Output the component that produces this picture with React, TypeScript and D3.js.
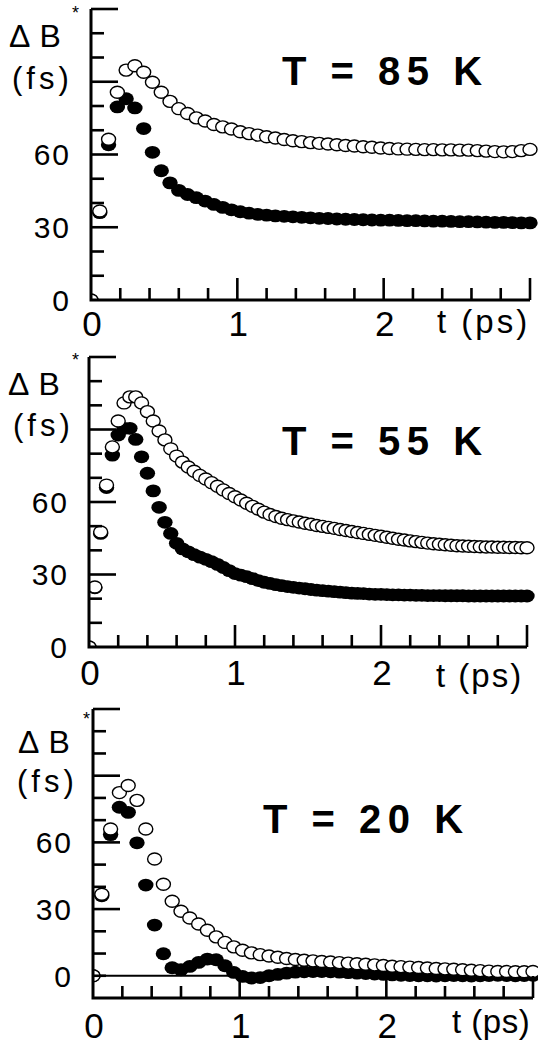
import * as d3 from 'd3';

const FONT = '"Liberation Sans", Arial, Helvetica, sans-serif';

// sampling interval (ps) of each run; point k sits at t = k * step
const step85 = 0.06;
const step55 = 0.04;
const step20 = 0.06;

// open circles / filled circles, ΔB* in fs
const open85 = [
  0, 36.7, 66.3, 85.7, 94.8, 96.6, 93.9, 89.8, 85.7, 81.9,
  78.9, 76.9, 75.1, 73.8, 72.4, 71.4, 70.5, 69.4, 68.6, 68.0,
  67.3, 66.8, 66.2, 65.7, 65.3, 64.9, 64.6, 64.3, 64.0, 63.7,
  63.5, 63.2, 63.0, 62.7, 62.5, 62.3, 62.2, 62.1, 62.0, 62.0,
  61.9, 61.9, 61.8, 61.8, 61.6, 61.4, 61.2, 61.1, 61.2, 61.6, 62.1,
];
const filled85 = [
  0, 36, 64, 79.6, 83, 79.2, 70.7, 60.9, 53.3, 48.3,
  45.2, 43.5, 42.2, 40.8, 39.4, 38.2, 37.2, 36.4, 35.8, 35.3,
  35.0, 34.7, 34.5, 34.3, 34.1, 33.9, 33.7, 33.6, 33.4, 33.3,
  33.2, 33.1, 33.0, 32.9, 32.9, 32.8, 32.7, 32.7, 32.6, 32.5,
  32.5, 32.4, 32.3, 32.3, 32.2, 32.1, 32.0, 32.0, 31.9, 31.8, 31.8,
];
const open55 = [
  0, 24.8, 47.6, 67, 82.8, 93.5, 101, 103.5, 103.5, 101,
  97.4, 93.5, 89.4, 85.7, 82, 79, 76.5, 74.5, 72.7, 71,
  69.5, 68, 66.5, 65, 63.5, 62.2, 60.8, 59.5, 58.2, 57,
  55.8, 54.8, 54, 53.3, 52.7, 52.2, 51.7, 51.2, 50.8, 50.3,
  49.9, 49.5, 49.1, 48.6, 48.2, 47.8, 47.4, 47, 46.6, 46.2,
  45.8, 45.4, 45, 44.6, 44.3, 43.9, 43.6, 43.3, 43, 42.7,
  42.5, 42.3, 42.1, 41.9, 41.8, 41.7, 41.6, 41.5, 41.4, 41.4,
  41.3, 41.3, 41.2, 41.2, 41.1, 41.1,
];
const filled55 = [
  0, 24.5, 47, 66, 79.4, 87.7, 90.5, 90.5, 85.9, 78.7,
  71.9, 64.6, 57.8, 51.6, 47, 42.9, 40.6, 39.4, 38.2, 37.2,
  36.3, 35.3, 34.2, 32.9, 31.6, 30.4, 29.7, 29.1, 28.3, 27.5,
  26.8, 26.3, 25.8, 25.4, 25, 24.7, 24.4, 24.1, 23.8, 23.5,
  23.3, 23.1, 22.9, 22.7, 22.5, 22.3, 22.2, 22.1, 21.9, 21.8,
  21.8, 21.7, 21.6, 21.6, 21.5, 21.5, 21.4, 21.4, 21.3, 21.3,
  21.3, 21.2, 21.2, 21.2, 21.2, 21.1, 21.1, 21.1, 21.1, 21.1,
  21.1, 21.1, 21.1, 21.1, 21.1, 21.1,
];
const open20 = [
  0, 36.7, 66, 82.4, 85.6, 78.9, 66, 52.5, 41.2, 33.5,
  29, 26, 23.3, 20.5, 17.5, 15, 13, 11.5, 10.3, 9.5,
  8.9, 8.3, 7.8, 7.3, 7.0, 6.7, 6.4, 6.2, 5.9, 5.7,
  5.4, 5.2, 4.9, 4.6, 4.3, 4.1, 3.9, 3.7, 3.5, 3.3,
  3.1, 2.9, 2.7, 2.5, 2.3, 2.1, 1.9, 1.9, 1.8, 1.8, 1.9,
];
const filled20 = [
  0, 36, 63.5, 75.8, 73.5, 59.8, 40.8, 22.8, 9.9, 3.6,
  2.7, 4.2, 6.0, 7.5, 7.2, 4.5, 1.5, -0.3, -1.0, -0.8,
  0.0, 0.6, 1.2, 1.6, 1.8, 1.9, 1.9, 1.8, 1.6, 1.4,
  1.2, 1.0, 0.8, 0.6, 0.4, 0.2, 0.1, 0.0, 0.0, -0.1,
  0.0, 0.1, 0.0, -0.1, 0.0, 0.1, 0.2, 0.1, 0.0, 0.1, 0.2,
];

const yTickLabels = [0, 30, 60];
const yMajorTicks = [30, 60, 90, 120];
const xTickLabels = [0, 1, 2];
const xMajorTicks = [1, 2, 3];

// page layout of the three stacked panels
const panels = [
  {
    title: 'T = 85 K', step: step85, open: open85, filled: filled85, yMin: 0,
    left: 91, right: 530, top: 9, bottom: 300,
    titleX: 282, titleY: 85, labX: 9, labY: 47, starX: 72, starY: 19, fsX: 12, fsY: 89,
    xNumDy: 36, tpsX: 437, tpsDy: 33, tpsLs: 3,
  },
  {
    title: 'T = 55 K', step: step55, open: open55, filled: filled55, yMin: 0,
    left: 89, right: 527, top: 357, bottom: 647,
    titleX: 282, titleY: 455, labX: 8, labY: 395, starX: 72, starY: 366, fsX: 13, fsY: 436,
    xNumDy: 38, tpsX: 436, tpsDy: 40, tpsLs: 2,
  },
  {
    title: 'T = 20 K', step: step20, open: open20, filled: filled20, yMin: -10,
    left: 93, right: 533, top: 709, bottom: 998,
    titleX: 263, titleY: 833, labX: 18, labY: 753, starX: 83, starY: 725, fsX: 17, fsY: 792,
    xNumDy: 40, tpsX: 452, tpsDy: 35, tpsLs: 0.5,
  },
];

function Panel({ p, id }) {
  const x = d3.scaleLinear().domain([0, 3]).range([p.left, p.right]);
  const y = d3.scaleLinear().domain([p.yMin, 120]).range([p.bottom, p.top]);
  const yTicks = d3.range(p.yMin + 10, 121, 10);
  const xTicks = d3.range(1, 16).map((k) => k * 0.2);
  const clip = `clip-${id}`;

  return (
    <g>
      <defs>
        <clipPath id={clip}>
          <rect x={x(0)} y={y(120) - 8} width={x(3) - x(0) + 8} height={y(p.yMin) - y(120) + 8} />
        </clipPath>
      </defs>

      {p.yMin < 0 && (
        <line x1={x(0)} x2={x(3)} y1={y(0)} y2={y(0)} stroke="#000" strokeWidth={2} />
      )}

      <g clipPath={`url(#${clip})`}>
        {p.filled.map((v, i) => (
          <ellipse key={'f' + i} cx={x(i * p.step)} cy={y(v)} rx={7.7} ry={6.4} fill="#000" />
        ))}
        {p.open.map((v, i) => (
          <ellipse key={'o' + i} cx={x(i * p.step)} cy={y(v)} rx={7} ry={6}
            fill="#fff" stroke="#000" strokeWidth={1.4} />
        ))}
      </g>

      {/* y ticks point inward */}
      {yTicks.map((t) => (
        <line key={'yt' + t} x1={x(0)} x2={x(0) + (yMajorTicks.includes(t) ? 27 : 13)}
          y1={y(t)} y2={y(t)} stroke="#000" strokeWidth={2.6} />
      ))}
      {xTicks.map((t) => {
        const major = xMajorTicks.some((m) => Math.abs(m - t) < 1e-6);
        return (
          <line key={'xt' + t} x1={x(t)} x2={x(t)} y1={y(p.yMin)} y2={y(p.yMin) - (major ? 22 : 12)}
            stroke="#000" strokeWidth={2.6} />
        );
      })}
      <path d={`M${x(0)},${y(120)}V${y(p.yMin)}H${x(3)}`} fill="none" stroke="#000" strokeWidth={3} />

      {yTickLabels.map((t) => (
        <text key={'yl' + t} x={x(0) - 20} y={y(t)} dy="0.36em" textAnchor="end"
          fontSize={30} letterSpacing={2} fontFamily={FONT}>{t}</text>
      ))}
      {xTickLabels.map((t) => (
        <text key={'xl' + t} x={x(t) + 1} y={y(p.yMin) + p.xNumDy} textAnchor="middle"
          fontSize={35} fontFamily={FONT}>{t}</text>
      ))}
      <text x={p.tpsX} y={y(p.yMin) + p.tpsDy} fontSize={33} letterSpacing={p.tpsLs}
        fontFamily={FONT}>t (ps)</text>

      <text x={p.labX} y={p.labY} fontSize={32} letterSpacing={1} fontFamily={FONT}>Δ B</text>
      <text x={p.starX} y={p.starY} fontSize={18} fontFamily={FONT}>*</text>
      <text x={p.fsX} y={p.fsY} fontSize={31} letterSpacing={4} fontFamily={FONT}>(fs)</text>

      <text x={p.titleX} y={p.titleY} fontSize={40} fontWeight="bold" letterSpacing={6.5}
        fontFamily={FONT}>{p.title}</text>
    </g>
  );
}

export default function App() {
  return (
    <svg width={538} height={1044} style={{ position: 'absolute', left: 0, top: 0, background: '#fff' }}>
      {panels.map((p, i) => (
        <Panel key={p.title} p={p} id={i} />
      ))}
    </svg>
  );
}
